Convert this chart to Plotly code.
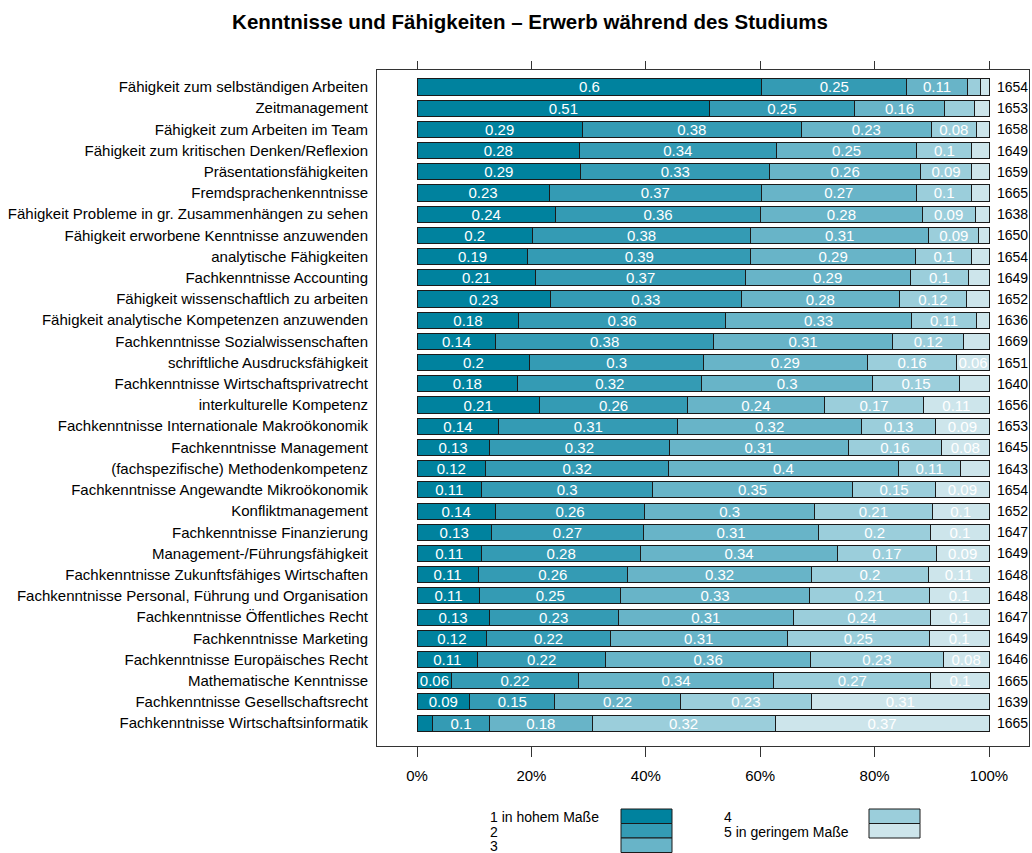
import plotly.graph_objects as go

# categories, top to bottom
items = [
    "Fähigkeit zum selbständigen Arbeiten",
    "Zeitmanagement",
    "Fähigkeit zum Arbeiten im Team",
    "Fähigkeit zum kritischen Denken/Reflexion",
    "Präsentationsfähigkeiten",
    "Fremdsprachenkenntnisse",
    "Fähigkeit Probleme in gr. Zusammenhängen zu sehen",
    "Fähigkeit erworbene Kenntnisse anzuwenden",
    "analytische Fähigkeiten",
    "Fachkenntnisse Accounting",
    "Fähigkeit wissenschaftlich zu arbeiten",
    "Fähigkeit analytische Kompetenzen anzuwenden",
    "Fachkenntnisse Sozialwissenschaften",
    "schriftliche Ausdrucksfähigkeit",
    "Fachkenntnisse Wirtschaftsprivatrecht",
    "interkulturelle Kompetenz",
    "Fachkenntnisse Internationale Makroökonomik",
    "Fachkenntnisse Management",
    "(fachspezifische) Methodenkompetenz",
    "Fachkenntnisse Angewandte Mikroökonomik",
    "Konfliktmanagement",
    "Fachkenntnisse Finanzierung",
    "Management-/Führungsfähigkeit",
    "Fachkenntnisse Zukunftsfähiges Wirtschaften",
    "Fachkenntnisse Personal, Führung und Organisation",
    "Fachkenntnisse Öffentliches Recht",
    "Fachkenntnisse Marketing",
    "Fachkenntnisse Europäisches Recht",
    "Mathematische Kenntnisse",
    "Fachkenntnisse Gesellschaftsrecht",
    "Fachkenntnisse Wirtschaftsinformatik",
]

# shares per answer level (1 = in hohem Maße ... 5 = in geringem Maße)
lvl1 = [0.603, 0.512, 0.289, 0.284, 0.286, 0.231, 0.242, 0.202, 0.194, 0.208, 0.233,
        0.178, 0.138, 0.197, 0.176, 0.214, 0.143, 0.126, 0.120, 0.113, 0.137, 0.130,
        0.113, 0.107, 0.110, 0.126, 0.122, 0.106, 0.061, 0.092, 0.027]
lvl2 = [0.253, 0.252, 0.383, 0.344, 0.331, 0.371, 0.359, 0.381, 0.389, 0.366, 0.334,
        0.361, 0.380, 0.304, 0.322, 0.259, 0.313, 0.316, 0.320, 0.299, 0.261, 0.266,
        0.278, 0.261, 0.246, 0.226, 0.216, 0.224, 0.221, 0.149, 0.100]
lvl3 = [0.106, 0.159, 0.227, 0.246, 0.263, 0.271, 0.282, 0.312, 0.289, 0.288, 0.276,
        0.326, 0.314, 0.286, 0.298, 0.239, 0.321, 0.312, 0.401, 0.349, 0.297, 0.306,
        0.344, 0.322, 0.330, 0.306, 0.309, 0.358, 0.342, 0.219, 0.179]
lvl4 = [0.024, 0.052, 0.079, 0.096, 0.090, 0.097, 0.093, 0.087, 0.098, 0.103, 0.118,
        0.113, 0.124, 0.157, 0.153, 0.174, 0.130, 0.163, 0.110, 0.146, 0.206, 0.196,
        0.173, 0.204, 0.210, 0.239, 0.249, 0.232, 0.274, 0.230, 0.320]
lvl5 = [0.014, 0.025, 0.022, 0.030, 0.030, 0.030, 0.024, 0.018, 0.030, 0.035, 0.039,
        0.022, 0.044, 0.056, 0.051, 0.114, 0.093, 0.083, 0.049, 0.093, 0.099, 0.102,
        0.092, 0.106, 0.104, 0.103, 0.104, 0.080, 0.102, 0.310, 0.374]

# number of answers
n_total = [1654, 1653, 1658, 1649, 1659, 1665, 1638, 1650, 1654, 1649, 1652, 1636,
           1669, 1651, 1640, 1656, 1653, 1645, 1643, 1654, 1652, 1647, 1649, 1648,
           1648, 1647, 1649, 1646, 1665, 1639, 1665]

legend_labels = ["1 in hohem Maße", "2", "3", "4", "5 in geringem Maße"]
colors = ["#00829e", "#349bb4", "#68b4c8", "#9bcedb", "#cde5eb"]

x_ticks = [0, 0.2, 0.4, 0.6, 0.8, 1.0]
x_ticktext = ["0%", "20%", "40%", "60%", "80%", "100%"]

FONT = "Liberation Sans, Arial, Helvetica, sans-serif"
FS = 15
W, H = 1032, 853
# plot box in pixels
L, R, T, B = 377, 1029, 70, 746
X0, X1 = 417, 989   # pixel of 0% and 100%


def fmt(v):
    # label like R prints it: 0.6, 0.25, hide tiny segments
    if v < 0.055:
        return ""
    return f"{round(v, 2):.2f}".rstrip("0")


def px(x):
    return (x - L) / (R - L)


def py(y):
    return (B - y) / (B - T)


fig = go.Figure()

for lab, col, vals in zip(legend_labels, colors, [lvl1, lvl2, lvl3, lvl4, lvl5]):
    fig.add_trace(go.Bar(
        y=items, x=vals, orientation="h", name=lab,
        marker=dict(color=col, line=dict(color="#1a1a1a", width=1)),
        text=[fmt(v) for v in vals], textposition="inside",
        insidetextanchor="middle", textangle=0, constraintext="none",
        textfont=dict(color="white", size=FS, family=FONT),
        showlegend=False, hoverinfo="x+y",
    ))

# dummy trace so that the top tick axis shows up
fig.add_trace(go.Scatter(x=[0, 1], y=[items[0], items[0]], xaxis="x2",
                         mode="markers", marker=dict(opacity=0),
                         showlegend=False, hoverinfo="skip"))

# counts on the right
for name, n in zip(items, n_total):
    fig.add_annotation(x=(995 - X0) / (X1 - X0), y=name, xref="x", yref="y",
                       text=str(n), showarrow=False, xanchor="left",
                       font=dict(size=14, color="black", family=FONT))

# legend made by hand: text left, colour box right
leg_pos = [(488, 621, 809), (488, 621, 823.5), (488, 621, 838),
           (722, 869, 809), (722, 869, 823.5)]
for lab, col, (tx, bx, by) in zip(legend_labels, colors, leg_pos):
    fig.add_shape(type="rect", xref="paper", yref="paper",
                  x0=px(bx), x1=px(bx + 51), y0=py(by), y1=py(by + 14.5),
                  fillcolor=col, line=dict(color="#1a1a1a", width=1))
    fig.add_annotation(x=px(tx), y=py(by + 8), xref="paper", yref="paper",
                       text=lab, showarrow=False, xanchor="left", yanchor="middle",
                       font=dict(size=14, color="black", family=FONT))

xr = [-(X0 - L) / (X1 - X0), 1 + (R - X1) / (X1 - X0)]

fig.update_layout(
    width=W, height=H,
    margin=dict(l=L, r=W - R, t=T, b=H - B),
    barmode="stack", bargap=0.24,
    plot_bgcolor="white", paper_bgcolor="white",
    font=dict(family=FONT, size=FS, color="black"),
    title=dict(text="<b>Kenntnisse und Fähigkeiten – Erwerb während des Studiums</b>",
               xref="container", x=530 / W, xanchor="center",
               yref="container", y=1 - 22 / H, yanchor="middle",
               font=dict(size=20.5, color="black", family=FONT)),
    xaxis=dict(range=xr, tickvals=x_ticks, ticktext=x_ticktext,
               ticks="outside", ticklen=10, tickcolor="#333",
               showline=True, linecolor="#333", mirror=True,
               showgrid=False, zeroline=False, ticklabelstandoff=6,
               tickfont=dict(size=FS, color="black")),
    xaxis2=dict(range=xr, tickvals=x_ticks, overlaying="x", side="top",
                anchor="y", showticklabels=False, ticks="outside",
                ticklen=8, tickcolor="#333", showgrid=False, zeroline=False),
    yaxis=dict(categoryorder="array", categoryarray=items,
               range=[31.08, -0.8], ticks="", showgrid=False,
               showline=True, linecolor="#333", mirror=True,
               ticklabelstandoff=5, tickfont=dict(size=FS, color="black")),
)

# the page body has a default 8px margin; drop it so the figure fills the window
fig.write_html("out.html", config={"displayModeBar": False},
               post_script="document.body.style.margin = '0';")
